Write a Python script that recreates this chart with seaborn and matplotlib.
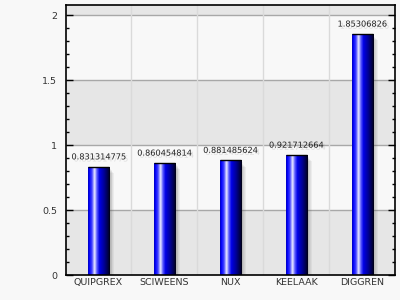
import numpy as np
import pandas as pd
import seaborn as sns
import matplotlib
matplotlib.use("Agg")
import matplotlib.pyplot as plt
from matplotlib.colors import LinearSegmentedColormap
from matplotlib.patches import Rectangle
from matplotlib.ticker import MultipleLocator
import matplotlib.transforms as mtransforms
import matplotlib.patheffects as pe

categories = ["QUIPGREX", "SCIWEENS", "NUX", "KEELAAK", "DIGGREN"]
values = [0.831314775, 0.860454814, 0.881485624, 0.921712664, 1.85306826]
labels = ["0.831314775", "0.860454814", "0.881485624", "0.921712664", "1.85306826"]

sns.set_theme(style="white")
plt.rcParams['font.family'] = ['DejaVu Sans']

df = pd.DataFrame({"cat": categories, "val": values})

fig = plt.figure(figsize=(4, 3), dpi=100, facecolor="#f8f8f8")
ax = fig.add_axes([0.164, 0.0833, 0.8235, 0.90])
ax.set_facecolor("#f8f8f8")

sns.barplot(data=df, x="cat", y="val", ax=ax, width=0.32, color="#0000ff",
            edgecolor="none", linewidth=0, zorder=3)

ymax = 2.077
ax.set_ylim(0, ymax)
ax.set_xlim(-0.5, len(categories) - 0.5)
ax.set_axisbelow(False)

# alternating bands
bands = [(0, 0.5, "#e6e6e6"), (0.5, 1.0, "#f8f8f8"), (1.0, 1.5, "#e6e6e6"),
         (1.5, 2.0, "#f8f8f8"), (2.0, ymax, "#e6e6e6")]
for lo, hi, c in bands:
    ax.axhspan(lo, hi, color=c, zorder=0, lw=0)
for yv in [0.5, 1.0, 1.5, 2.0]:
    ax.axhline(yv, color="#a8a8a8", lw=1.0, zorder=1)
for xv in np.arange(0.5, len(categories) - 0.5, 1.0):
    ax.axvline(xv, color="#dadada", lw=1.0, zorder=1)

cmap = LinearSegmentedColormap.from_list("bar", [
    (0.0, "#0000b0"), (0.06, "#0000ff"), (0.18, "#4040ff"), (0.3, "#f0f0ff"),
    (0.4, "#6060ff"), (0.52, "#0000e8"), (0.75, "#000090"), (0.92, "#000040"),
    (1.0, "#000010")])
grad = np.linspace(0, 1, 256).reshape(1, -1)

for p, lab in zip(ax.patches, labels):
    x, y0 = p.get_x(), p.get_y()
    w, h = p.get_width(), p.get_height()
    # soft shadow to the right
    for k in range(6):
        off = mtransforms.offset_copy(ax.transData, fig=fig, x=1.0 + 0.8 * k, y=-1.0,
                                      units="dots")
        ax.add_patch(Rectangle((x, y0), w, h - 0.008 * k,
                               facecolor="#505050", alpha=0.07, lw=0,
                               transform=off, zorder=2))
    im = ax.imshow(grad, cmap=cmap, extent=[x, x + w, y0, y0 + h], aspect="auto",
                   zorder=3, interpolation="bilinear")
    im.set_clip_path(p)
    ax.plot([x, x + w], [y0 + h, y0 + h], color="#000000", lw=1.0, zorder=4,
            solid_capstyle="butt")
    ax.annotate(lab, (x + w / 2, y0 + h), xytext=(0, 4), textcoords="offset points",
                ha="center", va="bottom", fontsize=5.9, color="#222222", zorder=5,
                path_effects=[pe.withSimplePatchShadow(offset=(1.5, -1.5),
                                                       shadow_rgbFace="#909090",
                                                       alpha=0.25)])

ax.set_aspect("auto")
ax.set_xlim(-0.5, len(categories) - 0.5)
ax.set_ylim(0, ymax)

ax.set_xlabel("")
ax.set_ylabel("")
ax.yaxis.set_major_locator(MultipleLocator(0.5))
ax.yaxis.set_minor_locator(MultipleLocator(0.1))
ax.set_yticks([0, 0.5, 1, 1.5, 2])
ax.set_yticklabels(["0", "0.5", "1", "1.5", "2"])
ax.tick_params(axis="y", which="major", direction="in", length=5, width=1,
               color="black", left=True, right=True, labelsize=6.8,
               labelcolor="#333333", pad=6)
ax.tick_params(axis="y", which="minor", direction="in", length=2.5, width=1,
               color="black", left=True, right=True)
ax.tick_params(axis="x", length=0, labelsize=6.8, labelcolor="#333333", pad=2)

for s in ax.spines.values():
    s.set_visible(True)
    s.set_color("black")
    s.set_linewidth(1.2)
    s.set_zorder(6)

fig.savefig("out.png", dpi=100, facecolor="#f8f8f8")
